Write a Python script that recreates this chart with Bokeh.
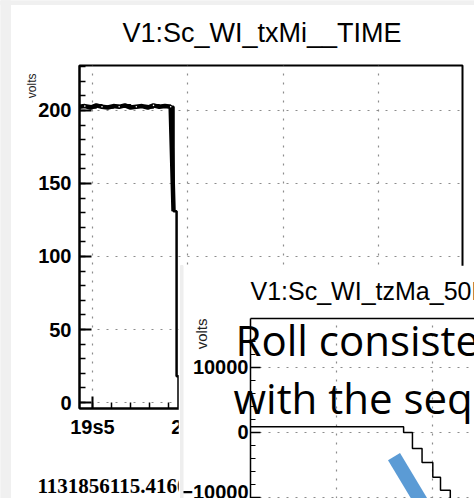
import numpy as np
from bokeh.plotting import figure
from bokeh.models import FixedTicker, Label, Range1d, LinearAxis, Grid
from bokeh.layouts import column
from bokeh.embed import file_html
from bokeh.resources import INLINE

# ---------------- data: main chart ----------------
main_title = "V1:Sc_WI_txMi__TIME"
main_ylabel = "volts"
main_time_offset = "1131856115.416016"
main_t = [19.43, 19.46, 19.49, 19.52, 19.55, 19.58, 19.61, 19.64, 19.67, 19.70,
          19.73, 19.76, 19.79, 19.82, 19.85, 19.88, 19.91, 19.925, 19.941, 19.951, 20.3]
main_v = [202.5, 203.0, 202.0, 203.5, 202.5, 202.0, 203.0, 202.5, 203.5, 202.0,
          202.5, 203.0, 202.0, 203.5, 202.5, 203.0, 202.5, 131.0, 18.0, -10.0, -10.0]
main_xticks = [19.5, 20.0, 20.5, 21.0]
main_xtick_labels = ["19s5", "20s", "20s5", "21s"]
main_yticks = [0, 50, 100, 150, 200]

# ---------------- data: inset chart ----------------
inset_title = "V1:Sc_WI_tzMa_50Hz"
inset_ylabel = "volts"
inset_t = [19.55, 20.348, 20.394, 20.444, 20.5, 20.54, 20.591, 20.72]
inset_v = [900, 0, -2450, -4600, -6900, -8900, -10500, -10500]
inset_yticks = [-10000, 0, 10000]
inset_xgrid = [20.0, 20.5]
note_lines = ["Roll consistent", "with the sequence"]
arrow_t = [20.298, 20.495]
arrow_v = [-3700, -13400]

FONT = "Liberation Sans"
GRID_COLOR = "#8c8c8c"
W, H = 474, 498


def overlay():
    """Transparent full-page figure used only to hold free-standing texts."""
    f = figure(width=W, height=H, output_backend="svg", toolbar_location=None,
               x_range=Range1d(0, W), y_range=Range1d(H, 0), min_border=0,
               x_axis_location=None, y_axis_location=None,
               background_fill_color=None, border_fill_color=None, frame_align=False)
    f.outline_line_color = None
    f.title.visible = False
    f.grid.visible = False
    f.margin = (-H, 0, 0, 0)
    return f


# ---------------- main figure ----------------
p = figure(width=W, height=H, output_backend="svg", toolbar_location=None,
           x_range=Range1d(19.432, 21.44), y_range=Range1d(-4.1, 230.8),
           min_border_left=79, min_border_right=12, min_border_top=65, min_border_bottom=90,
           background_fill_color="white", border_fill_color="white", frame_align=False)
p.title.visible = False
p.outline_line_color = "black"
p.outline_line_width = 2

p.xaxis.ticker = FixedTicker(ticks=main_xticks,
                             minor_ticks=list(np.round(np.arange(19.5, 21.45, 0.1), 2)))
p.xaxis.major_label_overrides = {float(k): v for k, v in zip(main_xticks, main_xtick_labels)}
p.yaxis.ticker = FixedTicker(ticks=main_yticks, minor_ticks=list(range(0, 231, 10)))

for ax in (p.xaxis[0], p.yaxis[0]):
    ax.axis_line_width = 2
    ax.major_tick_in = 12
    ax.major_tick_out = 0
    ax.minor_tick_in = 6
    ax.minor_tick_out = 0
    ax.major_tick_line_width = 2
    ax.minor_tick_line_width = 1.5
    ax.major_label_text_font = FONT
    ax.major_label_text_font_style = "bold"
    ax.major_label_text_font_size = "20px"
    ax.major_label_text_color = "black"
p.yaxis.major_label_standoff = 8
p.xaxis.major_label_standoff = 7

for g in (p.xgrid[0], p.ygrid[0]):
    g.grid_line_color = GRID_COLOR
    g.grid_line_dash = "2 7"
    g.grid_line_width = 1.2

p.step(main_t, main_v, mode="after", line_color="black", line_width=2.5)
p.line(main_t[:18], main_v[:18], line_color="black", line_width=4.5)
p.scatter(main_t[1:17:3], main_v[1:17:3], marker="circle", size=1.6,
          line_color=None, fill_color="white")

# texts that belong to the main canvas (hidden partly under the inset, like the reference)
ov_main = overlay()
ov_main.quad(left=[0, 0], right=[10, W], top=[0, 0], bottom=[H, 4], color="#f0f0f0")
ov_main.add_layout(Label(x=122, y=32, text=main_title, text_font=FONT,
                         text_font_size="27px", text_align="left", text_baseline="alphabetic",
                         text_color="black"))
ov_main.add_layout(Label(x=31, y=73, text=main_ylabel, text_font=FONT,
                         text_font_size="12px", angle=np.pi / 2, text_align="right",
                         text_baseline="middle", text_color="#222222"))
ov_main.add_layout(Label(x=37, y=485, text=main_time_offset, text_font="Liberation Serif",
                         text_font_style="bold", text_font_size="21px", text_align="left",
                         text_baseline="alphabetic", text_color="black"))

# ---------------- inset figure ----------------
q = figure(width=296, height=233, output_backend="svg", toolbar_location=None,
           x_range=Range1d(19.551, 20.717), y_range=Range1d(-10154, 17538),
           min_border_left=65, min_border_right=0, min_border_top=53, min_border_bottom=0,
           x_axis_location=None, y_axis_location="left",
           background_fill_color="white", border_fill_color="white", frame_align=False)
q.title.visible = False
q.outline_line_color = None
q.margin = (-233, 0, 0, 178)

top_axis = LinearAxis(ticker=FixedTicker(ticks=[]), axis_line_width=1.5,
                      major_tick_line_color=None, minor_tick_line_color=None)
q.add_layout(top_axis, "above")

ya = q.yaxis[0]
ya.ticker = FixedTicker(ticks=inset_yticks, minor_ticks=list(range(-10000, 17001, 2000)))
ya.axis_line_width = 1.5
ya.major_tick_in = 10
ya.major_tick_out = 0
ya.minor_tick_in = 5
ya.minor_tick_out = 0
ya.major_tick_line_width = 1.5
ya.minor_tick_line_width = 1.2
ya.major_label_text_font = FONT
ya.major_label_text_font_style = "bold"
ya.major_label_text_font_size = "20px"
ya.major_label_text_color = "black"
ya.major_label_standoff = 2

if len(q.xgrid) == 0:
    q.add_layout(Grid(dimension=0, ticker=FixedTicker(ticks=inset_xgrid)), "center")
else:
    q.xgrid.ticker = FixedTicker(ticks=inset_xgrid)
for g in list(q.xgrid) + list(q.ygrid):
    g.grid_line_color = GRID_COLOR
    g.grid_line_dash = "2 7"
    g.grid_line_width = 1.2

q.step(inset_t, inset_v, mode="after", line_color="black", line_width=1.5)
q.line(arrow_t, arrow_v, line_color="#5B9BD5", line_width=14, line_cap="butt")

# texts on top of the inset
ov_top = overlay()
ov_top.quad(left=[180], right=[182.5], top=[265], bottom=[H], color="#eeeeee")
ov_top.add_layout(Label(x=250, y=290, text=inset_title, text_font=FONT,
                        text_font_size="25px", text_align="left", text_baseline="alphabetic",
                        text_color="black"))
ov_top.add_layout(Label(x=201, y=318, text=inset_ylabel, text_font=FONT,
                        text_font_size="15px", angle=np.pi / 2, text_align="right",
                        text_baseline="middle", text_color="#222222"))
ov_top.add_layout(Label(x=235, y=339, text=note_lines[0], text_font="Open Sans",
                        text_font_size="42px", text_align="left", text_baseline="alphabetic",
                        text_color="black"))
ov_top.add_layout(Label(x=233, y=397, text=note_lines[1], text_font="Open Sans",
                        text_font_size="42px", text_align="left", text_baseline="alphabetic",
                        text_color="black"))

layout = column(p, ov_main, q, ov_top)
open("out.html", "w").write(file_html(layout, INLINE))
